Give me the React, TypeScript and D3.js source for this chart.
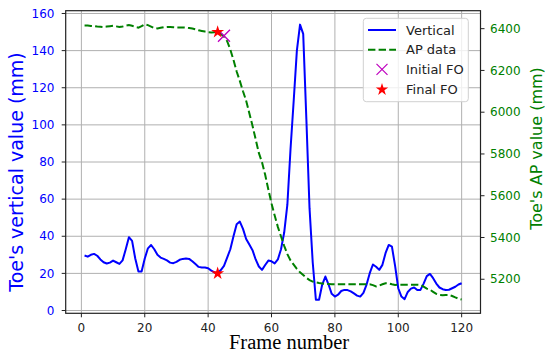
import * as d3 from 'd3';

// frame numbers 1..120
const frames: number[] = d3.range(1, 121);

// toe vertical value (mm), left axis
const vertical: number[] = [
  29.6, 29, 30, 30.5, 29.5, 27.5, 26, 25.3, 25.8, 26.9,
  26, 25.1, 27, 33, 39.5, 37.5, 28, 21, 21, 28,
  33.5, 35.3, 33, 30, 28.5, 27.8, 27, 25.8, 25.5, 26.2,
  27.3, 27.8, 28, 27.8, 26.5, 25, 23.5, 23.2, 23.2, 22.8,
  21.5, 20.5, 20.1, 21.8, 24, 28.5, 33, 40, 46.5, 47.9,
  44, 38.5, 35.5, 32.5, 27.5, 23.7, 21.9, 24.5, 26.9, 26.5,
  25.4, 27.5, 33, 42, 57, 87, 113, 140, 154, 149,
  103, 55, 26, 5.8, 5.8, 14, 18.3, 14, 9, 7.5,
  8.5, 10.5, 11.1, 11, 10.3, 9.2, 8, 7.5, 9.5, 14,
  20.1, 24.8, 23.6, 21.9, 24.6, 31, 35.3, 34.4, 24, 12,
  7.5, 6.1, 10, 11.8, 12.4, 11, 11.1, 14.5, 18.5, 19.7,
  17.4, 14.5, 12.4, 11.5, 11.1, 11.2, 12, 12.8, 14, 14.7,
];

// toe AP value (mm), right axis
const apData: number[] = [
  6415, 6415, 6413, 6412, 6410, 6409, 6408, 6410, 6412, 6414,
  6411, 6408, 6410, 6414, 6417, 6414, 6408, 6405, 6412, 6421,
  6417, 6410, 6403, 6401, 6404, 6407, 6408, 6408, 6407, 6406,
  6406, 6406, 6405, 6403, 6401, 6397, 6392, 6389, 6386, 6383,
  6382, 6383, 6384, 6375, 6362, 6340, 6300, 6250, 6195, 6150,
  6100, 6055, 5995, 5935, 5870, 5805, 5760, 5700, 5630, 5563,
  5505, 5451, 5405, 5360, 5320, 5290, 5270, 5250, 5233, 5220,
  5207, 5196, 5189, 5185, 5182, 5180, 5178, 5177, 5176, 5176,
  5176, 5176, 5176, 5176, 5176, 5176, 5176, 5176, 5176, 5176,
  5176, 5172, 5166, 5170, 5176, 5181, 5180, 5176, 5173, 5174,
  5174, 5174, 5174, 5174, 5174, 5174, 5173, 5165, 5155, 5150,
  5140, 5130, 5125, 5124, 5125, 5125, 5120, 5113, 5107, 5103,
];

const xTicks = [0, 20, 40, 60, 80, 100, 120];
const leftTicks = [0, 20, 40, 60, 80, 100, 120, 140, 160];
const rightTicks = [5200, 5400, 5600, 5800, 6000, 6200, 6400];

// foot-off events
const initialFO = { frame: 45, ap: 6366 };
const finalFO = { frame: 43, ap: 6384, vertical: 20 };

const legendItems = ['Vertical', 'AP data', 'Initial FO', 'Final FO'];

const W = 545;
const H = 353;
const plot = { left: 65.7, right: 480.5, top: 10.7, bottom: 313.3 };
const sans = '"DejaVu Sans", sans-serif';

export default function App() {
  const x = d3.scaleLinear().domain([-4.95, 125.95]).range([plot.left, plot.right]);
  const yL = d3.scaleLinear().domain([-1.5, 161.5]).range([plot.bottom, plot.top]);
  const yR = d3.scaleLinear().domain([5037, 6486]).range([plot.bottom, plot.top]);

  const vLine = d3.line<number>().x((_, i) => x(frames[i])).y((d) => yL(d));
  const apLine = d3.line<number>().x((_, i) => x(frames[i])).y((d) => yR(d));

  const star = d3.symbol(d3.symbolStar, 52)() as string;
  const starLegend = d3.symbol(d3.symbolStar, 48)() as string;
  const cross = (cx: number, cy: number, r: number) =>
    `M${cx - r},${cy - r}L${cx + r},${cy + r}M${cx - r},${cy + r}L${cx + r},${cy - r}`;

  const lg = { x: 363.3, y: 18.3, w: 105, h: 83.4 };
  const rowY = (i: number) => 30 + i * 19.7;

  return (
    <svg
      width={W}
      height={H}
      style={{ position: 'absolute', left: 0, top: 0, background: '#fff' }}
    >
      <rect width={W} height={H} fill="#fff" />

      {/* grid */}
      <g stroke="#b0b0b0" strokeWidth={1}>
        {xTicks.map((t) => (
          <line key={'gx' + t} x1={x(t)} x2={x(t)} y1={plot.top} y2={plot.bottom} />
        ))}
        {leftTicks.map((t) => (
          <line key={'gy' + t} x1={plot.left} x2={plot.right} y1={yL(t)} y2={yL(t)} />
        ))}
      </g>

      {/* data */}
      <path d={vLine(vertical) as string} fill="none" stroke="#0000ff" strokeWidth={2} strokeLinejoin="round" />
      <path d={apLine(apData) as string} fill="none" stroke="#008000" strokeWidth={2} strokeDasharray="7.4,3.2" />

      <path
        d={cross(x(initialFO.frame), yR(initialFO.ap), 6)}
        stroke="#bf00bf"
        strokeWidth={1.3}
        fill="none"
      />
      <path d={star} transform={`translate(${x(finalFO.frame)},${yR(finalFO.ap)})`} fill="#ff0000" />
      <path d={star} transform={`translate(${x(finalFO.frame)},${yL(finalFO.vertical)})`} fill="#ff0000" />

      {/* spines */}
      <rect
        x={plot.left}
        y={plot.top}
        width={plot.right - plot.left}
        height={plot.bottom - plot.top}
        fill="none"
        stroke="#222"
        strokeWidth={1.2}
      />

      {/* bottom axis */}
      <g fontFamily={sans} fontSize={12} fill="#222">
        {xTicks.map((t) => (
          <g key={'xt' + t}>
            <line x1={x(t)} x2={x(t)} y1={plot.bottom} y2={plot.bottom + 4} stroke="#222" />
            <text x={x(t)} y={332} textAnchor="middle">{t}</text>
          </g>
        ))}
      </g>

      {/* left axis */}
      <g fontFamily={sans} fontSize={12} fill="#0000ff">
        {leftTicks.map((t) => (
          <g key={'lt' + t}>
            <line x1={plot.left - 4} x2={plot.left} y1={yL(t)} y2={yL(t)} stroke="#222" />
            <text x={54.5} y={yL(t)} dy="0.35em" textAnchor="end">{t}</text>
          </g>
        ))}
      </g>

      {/* right axis */}
      <g fontFamily={sans} fontSize={12} fill="#008000">
        {rightTicks.map((t) => (
          <g key={'rt' + t}>
            <line x1={plot.right} x2={plot.right + 4} y1={yR(t)} y2={yR(t)} stroke="#222" />
            <text x={490} y={yR(t)} dy="0.35em">{t}</text>
          </g>
        ))}
      </g>

      {/* axis labels */}
      <text
        transform="translate(15.5,172) rotate(-90)"
        textAnchor="middle"
        dominantBaseline="central"
        fontFamily={sans}
        fontSize={19}
        fill="#0000ff"
      >
        Toe's vertical value (mm)
      </text>
      <text
        transform="translate(536,148.5) rotate(-90)"
        textAnchor="middle"
        dominantBaseline="central"
        fontFamily={sans}
        fontSize={16}
        fill="#008000"
      >
        Toe's AP value (mm)
      </text>
      <text
        x={289}
        y={349}
        textAnchor="middle"
        fontFamily='"Liberation Serif", "Times New Roman", serif'
        fontSize={20.5}
        fill="#000"
      >
        Frame number
      </text>

      {/* legend */}
      <g>
        <rect
          x={lg.x}
          y={lg.y}
          width={lg.w}
          height={lg.h}
          rx={3}
          fill="#fff"
          fillOpacity={0.8}
          stroke="#d0d0d0"
        />
        <line x1={368} x2={396} y1={rowY(0)} y2={rowY(0)} stroke="#0000ff" strokeWidth={2} />
        <line x1={368} x2={396} y1={rowY(1)} y2={rowY(1)} stroke="#008000" strokeWidth={2} strokeDasharray="7.4,3.2" />
        <path d={cross(382, rowY(2), 5.5)} stroke="#bf00bf" strokeWidth={1.2} fill="none" />
        <path d={starLegend} transform={`translate(382,${rowY(3) + 0.5})`} fill="#ff0000" />
        {legendItems.map((s, i) => (
          <text key={s} x={406} y={rowY(i)} dy="0.35em" fontFamily={sans} fontSize={13} fill="#222">
            {s}
          </text>
        ))}
      </g>
    </svg>
  );
}
